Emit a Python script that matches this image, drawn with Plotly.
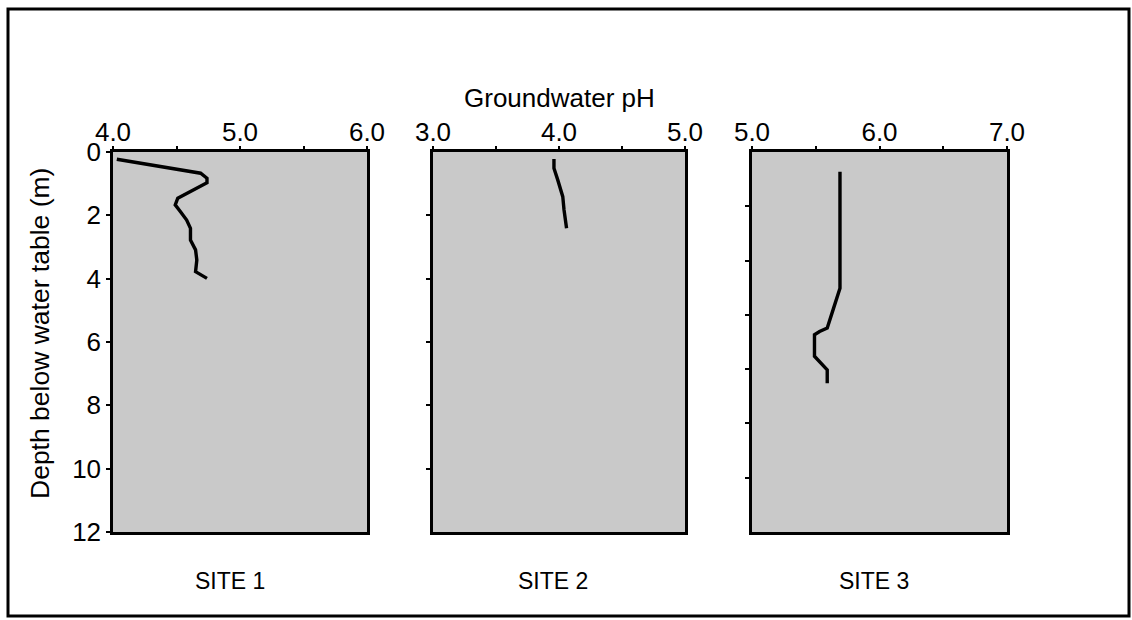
import plotly.graph_objects as go

# ---------------- data ----------------
site1_ph = [4.03, 4.69, 4.74, 4.74, 4.51, 4.49, 4.53, 4.58, 4.61, 4.61, 4.65, 4.66, 4.65, 4.74]
site1_depth = [0.23, 0.67, 0.83, 0.97, 1.46, 1.67, 1.88, 2.15, 2.41, 2.78, 3.09, 3.41, 3.78, 3.99]

site2_ph = [3.96, 3.96, 3.99, 4.03, 4.04, 4.06]
site2_depth = [0.22, 0.51, 0.88, 1.41, 1.83, 2.41]

site3_ph = [5.69, 5.69, 5.64, 5.59, 5.53, 5.49, 5.49, 5.54, 5.59, 5.59]
site3_depth = [0.62, 4.30, 4.93, 5.56, 5.67, 5.77, 6.45, 6.66, 6.88, 7.30]

site_names = ["SITE 1", "SITE 2", "SITE 3"]
x_ranges = [[4.0, 6.0], [3.0, 5.0], [5.0, 7.0]]
depth_range = [12, 0]
depth_tickvals = [0, 2, 4, 6, 8, 10, 12]
depth_ticktext = ["0", "2", "4", "6", "8", "10", "12"]
site3_depth_ticks = [12 * i / 7 for i in range(1, 7)]

# ---------------- layout helpers ----------------
W, H = 1132, 620
FONT = "Arial, Liberation Sans, sans-serif"


def px_x(p):
    return p / W


def px_y(p):
    return 1 - p / H


panel_px = [(113, 367), (433, 685), (752, 1007)]
top_px, bot_px = 152, 532
label_centers = [230, 553, 874]

fig = go.Figure()

series = [(site1_ph, site1_depth), (site2_ph, site2_depth), (site3_ph, site3_depth)]
for i, (ph, dep) in enumerate(series):
    suffix = "" if i == 0 else str(i + 1)
    fig.add_trace(go.Scatter(
        x=ph, y=dep, mode="lines",
        line=dict(color="black", width=3.4),
        xaxis="x" + suffix, yaxis="y" + suffix,
        showlegend=False, hoverinfo="skip",
    ))

layout = dict(
    width=W, height=H,
    autosize=False,
    margin=dict(l=0, r=0, t=0, b=0, pad=0, autoexpand=False),
    paper_bgcolor="white",
    plot_bgcolor="#c9c9c9",
    font=dict(family=FONT, color="black"),
    showlegend=False,
)

for i in range(3):
    suffix = "" if i == 0 else str(i + 1)
    x0, x1 = panel_px[i]
    xa = dict(
        domain=[px_x(x0), px_x(x1)],
        range=x_ranges[i],
        side="top",
        anchor="y" + suffix,
        automargin=False,
        dtick=1.0,
        tick0=0,
        tickformat=".1f",
        ticks="outside",
        ticklen=3,
        tickwidth=1.5,
        tickcolor="black",
        tickfont=dict(size=26, family=FONT, color="black"),
        ticklabelstandoff=-5,
        minor=dict(dtick=0.5, ticks="outside", ticklen=3, tickwidth=1.5, tickcolor="black"),
        showline=True, linecolor="black", linewidth=2.5, mirror=True,
        showgrid=False, zeroline=False, fixedrange=True,
    )
    ya = dict(
        domain=[px_y(bot_px), px_y(top_px)],
        range=depth_range,
        anchor="x" + suffix,
        automargin=False,
        ticks="outside",
        ticklen=4,
        tickwidth=1.5,
        tickcolor="black",
        showline=True, linecolor="black", linewidth=2.5, mirror=True,
        showgrid=False, zeroline=False, fixedrange=True,
    )
    if i == 0:
        ya.update(tickmode="array", tickvals=depth_tickvals, ticktext=depth_ticktext,
                  tickfont=dict(size=26, family=FONT, color="black"), ticklabelstandoff=0)
    elif i == 1:
        ya.update(tickmode="array", tickvals=depth_tickvals[1:-1], showticklabels=False)
    else:
        ya.update(tickmode="array", tickvals=site3_depth_ticks, showticklabels=False)
    layout["xaxis" + suffix] = xa
    layout["yaxis" + suffix] = ya

annotations = [
    dict(text="Groundwater pH", x=px_x(559), y=px_y(98), xref="paper", yref="paper",
         showarrow=False, font=dict(size=26, family=FONT), xanchor="center", yanchor="middle"),
    dict(text="Depth below water table (m)", x=px_x(40), y=px_y(334), xref="paper", yref="paper",
         showarrow=False, textangle=-90, font=dict(size=26.5, family=FONT),
         xanchor="center", yanchor="middle"),
]
for name, cx in zip(site_names, label_centers):
    annotations.append(dict(text=name, x=px_x(cx), y=px_y(581), xref="paper", yref="paper",
                            showarrow=False, font=dict(size=23, family=FONT),
                            xanchor="center", yanchor="middle"))
layout["annotations"] = annotations

layout["shapes"] = [
    dict(type="rect", xref="paper", yref="paper",
         x0=px_x(8), x1=px_x(1129), y0=px_y(616), y1=px_y(9),
         line=dict(color="black", width=3), fillcolor="rgba(0,0,0,0)", layer="below"),
]

fig.update_layout(**layout)
fig.write_html("out.html")
